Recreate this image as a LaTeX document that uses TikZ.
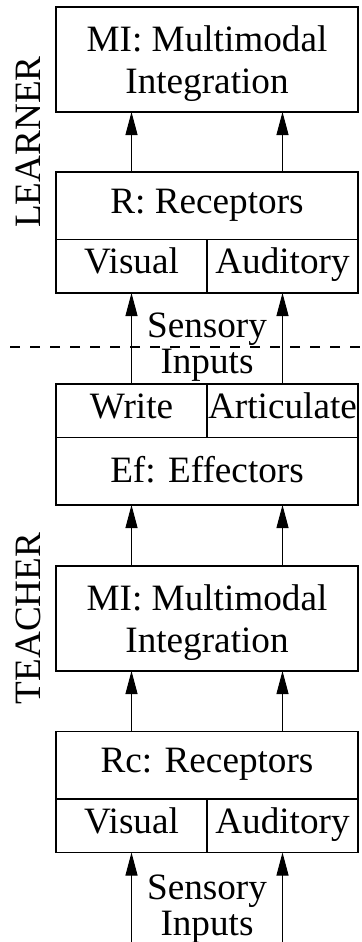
\documentclass[tikz,border=0pt]{standalone}
\usepackage{fontspec}
\setmainfont{Liberation Serif}
\usepackage{tikz}
\usetikzlibrary{arrows.meta, positioning, calc}

\begin{document}
\begin{tikzpicture}[
    font=\fontsize{18.6pt}{21pt}\selectfont,
    node distance=30pt,
    block/.style={rectangle, draw, line width=0.6pt, outer sep=0pt, inner sep=0pt, minimum width=151pt, minimum height=52.5pt, align=center, text depth=0pt},
    headblock/.style={rectangle, draw, line width=0.6pt, outer sep=0pt, inner sep=0pt, minimum width=151pt, minimum height=33.75pt, text height=0.8em, text depth=0.05em},
    cell/.style={rectangle, draw, line width=0.6pt, outer sep=0pt, inner sep=0pt, minimum width=75.5pt, minimum height=26.75pt, text height=0.8em, text depth=0.05em},
    inputs/.style={align=center, inner sep=0pt, font=\fontsize{18.6pt}{18pt}\selectfont},
    side/.style={rotate=90, inner sep=0pt},
    arrow/.style={-{Triangle[length=11.5pt, width=6pt]}, line width=0.5pt},
    divider/.style={line width=1.1pt, dash pattern=on 5pt off 5pt}
]
\useasboundingbox (0,0) rectangle (180.5pt,-471pt);

% Learner
\node[block, anchor=north] (lmi) at (103.5pt,-3.5pt) {MI: Multimodal\\Integration};
\node[headblock, below=of lmi] (lrec) {R: Receptors};
\node[cell, below right=0pt of lrec.south west] (lvis) {Visual};
\node[cell, below left=0pt of lrec.south east] (laud) {Auditory};

% Teacher
\node[cell, below=45.5pt of lvis] (twri) {Write};
\node[cell, below=45.5pt of laud] (tart) {Articulate};
\node[headblock, below right=0pt of twri.south west, text height=1.2em] (tef) {Ef: Effectors};
\node[block, below=30.5pt of tef] (tmi) {MI: Multimodal\\Integration};
\node[headblock, below=30.25pt of tmi] (trec) {Rc: Receptors};
\node[cell, below right=0pt of trec.south west] (tvis) {Visual};
\node[cell, below left=0pt of trec.south east] (taud) {Auditory};

% Side labels
\node[side] at ($(lmi.south west)!0.5!(lrec.north west)+(-13.85pt,0)$) {LEARNER};
\node[side] at ($(tmi.west)+(-13.85pt,0)$) {TEACHER};

% Input labels
\node[inputs, below=9.85pt of lvis.south east] (lin) {Sensory\\Inputs};
\node[inputs, below=11.15pt of tvis.south east] (tin) {Sensory\\Inputs};

% Boundary between the two agents
\coordinate (cutl) at (5pt,-173.35pt);
\coordinate (cutr) at (180.5pt,-173.35pt);
\draw[divider] (cutl) -- (cutr);

% Arrows
\draw[arrow] (lvis |- lrec.north) -- (lvis |- lmi.south);
\draw[arrow] (laud |- lrec.north) -- (laud |- lmi.south);
\draw[arrow] (twri) -- (lvis);
\draw[arrow] (tart) -- (laud);
\draw[arrow] (tvis |- tmi.north) -- (tvis |- tef.south);
\draw[arrow] (taud |- tmi.north) -- (taud |- tef.south);
\draw[arrow] (tvis |- trec.north) -- (tvis |- tmi.south);
\draw[arrow] (taud |- trec.north) -- (taud |- tmi.south);
\draw[arrow] ([yshift=-44.6pt]tvis.south) -- (tvis);
\draw[arrow] ([yshift=-44.6pt]taud.south) -- (taud);

\end{tikzpicture}
\end{document}
